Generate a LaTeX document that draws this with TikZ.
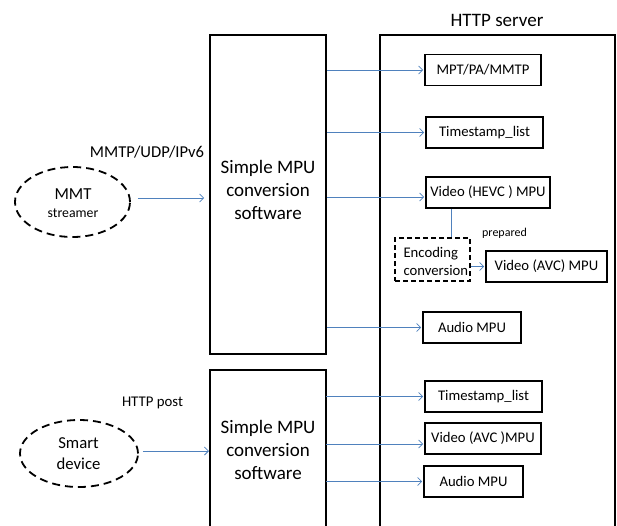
\documentclass[tikz,border=0pt]{standalone}
\usepackage{fontspec}
\setmainfont{Carlito}
\usetikzlibrary{arrows.meta,calc,shapes.geometric}
\definecolor{linkblue}{HTML}{4F81BD}
\newcommand{\fs}[2]{\fontsize{#1}{#2}\selectfont}
\tikzset{
  frame/.style={draw=black,line width=1.6pt},
  item/.style={draw=black,line width=1.6pt,inner sep=0pt,minimum height=31pt,font=\fs{14.7}{17}},
  cloud/.style={ellipse,draw=black,line width=1.8pt,dash pattern=on 8pt off 5pt,inner sep=0pt},
  arr/.style={draw=linkblue,line width=0.8pt,-{Straight Barb[length=4pt,width=8pt]}},
  link/.style={draw=linkblue,line width=0.8pt},
}
\begin{document}
\begin{tikzpicture}[x=1pt,y=-1pt]
\useasboundingbox (0,0) rectangle (617,525);

% converters and the server frame
\node[frame,inner sep=0pt,minimum width=116pt,minimum height=319pt] (mpu1) at (268,194.5) {};
\node[align=center,font=\fs{19}{23}] (mpu1txt) at (268,190) {Simple MPU\\conversion\\software};
\draw[frame] (210,526) -- (210,370) -- (326,370) -- (326,526);
\coordinate (mpu2e) at (326,450);
\coordinate (mpu2w) at (210,450);
\node[align=center,font=\fs{19}{23}] (mpu2txt) at (268,450) {Simple MPU\\conversion\\software};
\draw[frame] (380,526) -- (380,35) -- (615,35) -- (615,526);
\node[font=\fs{19}{22}] (srv) at (497,20) {HTTP server};

% sources
\node[cloud,minimum width=115pt,minimum height=70pt] (mmt) at (72.5,202) {};
\node[align=center,font=\fs{16.8}{18}] (mmttxt) at (73,203) {MMT\\{\fs{13.8}{18}streamer}};
\node[cloud,minimum width=118pt,minimum height=67pt] (smart) at (79,453.5) {};
\node[align=center,font=\fs{16.7}{21}] (smarttxt) at (78.5,453.5) {Smart\\device};
\node[font=\fs{16.6}{19}] (proto1) at (147,152) {MMTP/UDP/IPv6};
\node[font=\fs{14.8}{17}] (proto2) at (152.5,403) {HTTP post};

% stored items
\node[item,minimum width=116pt] (mpt) at (483,70) {MPT/PA/MMTP};
\node[item,minimum width=117pt] (ts1) at (484.5,132.5) {Timestamp\_list};
\node[item,minimum width=124pt] (hevc) at (488,192.5) {Video (HEVC ) MPU};
\node[draw=black,line width=1.6pt,dash pattern=on 5pt off 3pt,inner sep=0pt,minimum width=75pt,minimum height=43pt] (enc) at (432.5,259.5) {};
\node[align=left,font=\fs{14.7}{18},anchor=west] (enctxt) at (400,261) {Encoding\\conversion};
\node[item,minimum width=121pt] (avc1) at (546.5,266.5) {Video (AVC) MPU};
\node[font=\fs{12}{14}] (prep) at (504.5,233) {prepared};
\node[item,minimum width=98pt] (aud1) at (472,327.5) {Audio MPU};
\node[item,minimum width=117pt] (ts2) at (483.5,396.5) {Timestamp\_list};
\node[item,minimum width=116pt] (avc2) at (483,438.5) {Video (AVC )MPU};
\node[item,minimum width=99pt] (aud2) at (473.5,481.5) {Audio MPU};

% connectors
\draw[arr,shorten <=7pt,shorten >=5pt] (mmt.east |- 0,198) -- (mpu1.west |- 0,198);
\draw[arr,shorten <=4pt,shorten >=1pt] (smart.east |- 0,451) -- (mpu2w |- 0,451);
\draw[arr,shorten >=1pt] (mpu1.east |- mpt.west) -- (mpt.west);
\draw[arr,shorten >=1pt] (mpu1.east |- ts1.west) -- (ts1.west);
\coordinate (hevcin) at ($(hevc.west)+(0,4.5)$);
\draw[arr,shorten >=1pt] (mpu1.east |- hevcin) -- (hevcin);
\draw[link] (hevc.south -| 451,0) -- (enc.north -| 451,0);
\draw[arr,shorten >=1pt] (enc.east |- avc1.west) -- (avc1.west);
\draw[arr,shorten >=1pt] (mpu1.east |- aud1.west) -- (aud1.west);
\draw[arr,shorten >=1pt] (mpu2e |- ts2.west) -- (ts2.west);
\coordinate (avc2in) at ($(avc2.west)+(0,5.5)$);
\draw[arr,shorten >=1pt] (mpu2e |- avc2in) -- (avc2in);
\draw[arr,shorten >=1pt] (mpu2e |- aud2.west) -- (aud2.west);
\end{tikzpicture}
\end{document}
